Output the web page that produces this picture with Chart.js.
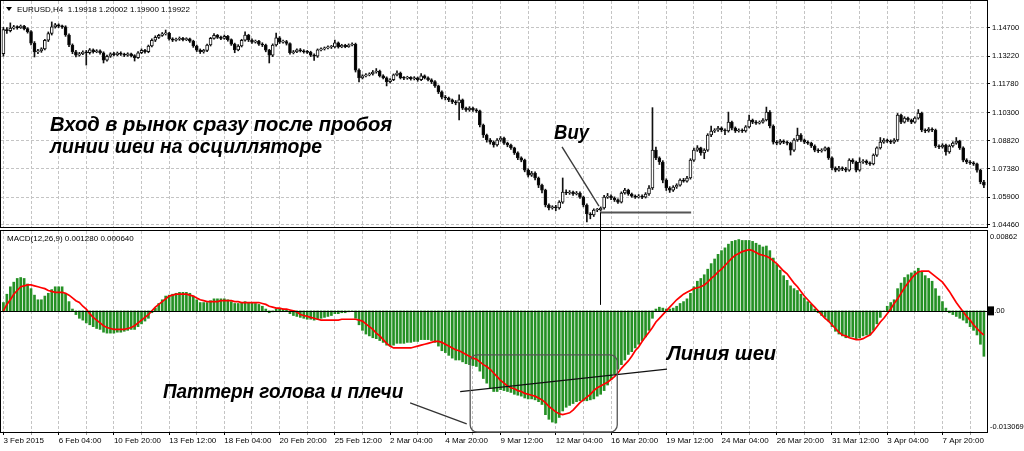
<!DOCTYPE html>
<html>
<head>
<meta charset="utf-8">
<script src="https://cdn.jsdelivr.net/npm/chart.js@4.4.1/dist/chart.umd.min.js"></script>
<style>
    html, body { margin: 0; padding: 0; background: #fff; }
    #wrap { position: relative; width: 1024px; height: 451px; overflow: hidden; }
    #price { position: absolute; left: 0; top: 0; }
    #macd { position: absolute; left: 0; top: 229px; }
</style>
</head>
<body>
<div id="wrap">
    <canvas id="price" width="1024" height="229"></canvas>
    <canvas id="macd" width="1024" height="222"></canvas>
</div>
<script>
// EURUSD H4, 285 bars.
// Prices are in 0.0001 steps (11460 = 1.1460), MACD values in 0.0001 steps.
const PRICE_UNIT = 1e-4;
const MACD_UNIT = 1e-4;

const firstOpen = 11335;

const closes = [
    11460, 11455, 11468, 11475, 11470, 11478, 11465, 11450, 11390, 11344,
    11350, 11360, 11405, 11440, 11474, 11485, 11478, 11474, 11432, 11380,
    11345, 11328, 11335, 11344, 11340, 11355, 11345, 11350, 11340, 11302,
    11322, 11335, 11330, 11338, 11332, 11328, 11334, 11325, 11315, 11340,
    11352, 11345, 11375, 11405, 11420, 11430, 11438, 11442, 11412, 11405,
    11410, 11415, 11408, 11412, 11400, 11375, 11354, 11345, 11352, 11380,
    11415, 11430, 11420, 11415, 11425, 11408, 11385, 11355, 11375, 11405,
    11432, 11406, 11395, 11400, 11385, 11380, 11354, 11328, 11380, 11418,
    11395, 11398, 11388, 11340, 11345, 11355, 11350, 11345, 11342, 11328,
    11322, 11355, 11360, 11365, 11370, 11370, 11392, 11370, 11378, 11372,
    11380, 11384, 11250, 11210, 11220, 11225, 11230, 11240, 11245, 11220,
    11210, 11190, 11200, 11225, 11235, 11210, 11208, 11212, 11205, 11210,
    11200, 11220, 11210, 11200, 11190, 11168, 11137, 11110, 11105, 11095,
    11085, 11080, 11095, 11053, 11043, 11053, 11043, 11038, 10965, 10913,
    10887, 10876, 10861, 10887, 10897, 10871, 10861, 10846, 10820, 10794,
    10783, 10731, 10705, 10716, 10690, 10653, 10627, 10550, 10534, 10540,
    10534, 10565, 10617, 10612, 10617, 10607, 10612, 10591, 10550, 10503,
    10498, 10524, 10524, 10534, 10591, 10596, 10586, 10576, 10565, 10612,
    10627, 10607, 10596, 10591, 10596, 10591, 10607, 10638, 10835, 10794,
    10773, 10679, 10638, 10627, 10643, 10653, 10679, 10674, 10690, 10783,
    10835, 10846, 10820, 10835, 10913, 10934, 10939, 10949, 10939, 10934,
    10980, 10949, 10934, 10939, 10934, 10955, 10991, 10980, 10975, 10980,
    10991, 11032, 10960, 10876, 10871, 10881, 10876, 10871, 10835, 10887,
    10913, 10887, 10876, 10871, 10856, 10835, 10830, 10835, 10846, 10794,
    10742, 10731, 10742, 10737, 10731, 10783, 10773, 10731, 10773, 10778,
    10768, 10763, 10809, 10846, 10876, 10887, 10881, 10876, 10887, 11017,
    10980, 11001, 10991, 10980, 11001, 11027, 10939, 10934, 10944, 10939,
    10856, 10851, 10861, 10825, 10856, 10871, 10881, 10846, 10783, 10773,
    10768, 10763, 10731, 10669, 10653
];

const highs = [
    11472, 11470, 11495, 11482, 11480, 11484, 11482, 11470, 11455, 11398,
    11358, 11366, 11410, 11448, 11500, 11492, 11490, 11484, 11480, 11438,
    11386, 11352, 11342, 11350, 11352, 11362, 11360, 11356, 11355, 11345,
    11328, 11340, 11342, 11344, 11345, 11338, 11340, 11338, 11330, 11346,
    11360, 11358, 11380, 11412, 11428, 11436, 11445, 11458, 11446, 11418,
    11416, 11422, 11420, 11418, 11416, 11405, 11380, 11360, 11358, 11385,
    11420, 11440, 11435, 11426, 11432, 11430, 11412, 11390, 11382, 11410,
    11448, 11436, 11412, 11406, 11404, 11392, 11385, 11358, 11386, 11442,
    11424, 11406, 11404, 11392, 11352, 11360, 11362, 11356, 11352, 11348,
    11335, 11360, 11366, 11370, 11376, 11378, 11406, 11396, 11384, 11384,
    11386, 11392, 11390, 11256, 11226, 11232, 11236, 11248, 11258, 11250,
    11226, 11215, 11206, 11230, 11246, 11240, 11216, 11218, 11216, 11216,
    11214, 11232, 11225, 11215, 11205, 11195, 11172, 11142, 11118, 11110,
    11100, 11092, 11121, 11100, 11058, 11060, 11058, 11050, 11042, 10970,
    10918, 10895, 10882, 10894, 10905, 10902, 10876, 10866, 10850, 10826,
    10800, 10788, 10738, 10724, 10722, 10695, 10658, 10632, 10556, 10546,
    10548, 10572, 10690, 10628, 10625, 10622, 10620, 10618, 10596, 10556,
    10510, 10530, 10532, 10540, 10600, 10610, 10602, 10592, 10582, 10618,
    10636, 10632, 10612, 10602, 10604, 10602, 10614, 10650, 11055, 10850,
    10800, 10780, 10686, 10645, 10650, 10660, 10686, 10688, 10698, 10790,
    10845, 10858, 10850, 10842, 10920, 10960, 10946, 10958, 10955, 10945,
    11032, 10986, 10955, 10945, 10945, 10962, 11017, 10996, 10988, 10986,
    10998, 11058, 11040, 10966, 10884, 10890, 10888, 10882, 10876, 10894,
    10949, 10920, 10892, 10882, 10876, 10862, 10842, 10842, 10852, 10850,
    10800, 10748, 10750, 10748, 10745, 10790, 10790, 10778, 10795, 10786,
    10784, 10774, 10815, 10852, 10900, 10895, 10892, 10888, 10894, 11025,
    11022, 11008, 11006, 10996, 11008, 11045, 11032, 10945, 10952, 10950,
    10944, 10862, 10868, 10866, 10862, 10878, 10900, 10886, 10852, 10790,
    10780, 10775, 10768, 10736, 10678
];

const lows = [
    11322, 11440, 11448, 11462, 11462, 11466, 11458, 11442, 11380, 11318,
    11335, 11342, 11355, 11398, 11432, 11468, 11470, 11466, 11425, 11372,
    11335, 11318, 11322, 11330, 11276, 11333, 11338, 11340, 11332, 11287,
    11296, 11316, 11324, 11325, 11326, 11320, 11322, 11318, 11297, 11310,
    11335, 11338, 11340, 11370, 11398, 11414, 11425, 11432, 11405, 11398,
    11400, 11404, 11402, 11403, 11394, 11368, 11346, 11336, 11338, 11346,
    11375, 11410, 11414, 11408, 11410, 11400, 11378, 11340, 11350, 11370,
    11400, 11398, 11388, 11390, 11378, 11372, 11345, 11287, 11320, 11374,
    11388, 11390, 11380, 11332, 11334, 11340, 11344, 11338, 11336, 11320,
    11300, 11316, 11350, 11354, 11360, 11362, 11365, 11364, 11366, 11366,
    11368, 11375, 11240, 11188, 11204, 11214, 11220, 11224, 11234, 11214,
    11204, 11168, 11184, 11195, 11220, 11204, 11200, 11202, 11198, 11199,
    11192, 11195, 11204, 11194, 11180, 11160, 11128, 11100, 11095, 11086,
    11076, 11070, 10991, 11045, 11035, 11036, 11036, 11030, 10955, 10900,
    10876, 10866, 10850, 10855, 10880, 10864, 10852, 10838, 10812, 10785,
    10774, 10722, 10695, 10698, 10680, 10640, 10612, 10540, 10524, 10528,
    10520, 10528, 10558, 10604, 10605, 10600, 10602, 10584, 10540, 10462,
    10478, 10490, 10515, 10518, 10528, 10584, 10578, 10568, 10558, 10560,
    10606, 10600, 10590, 10584, 10586, 10582, 10586, 10600, 10630, 10785,
    10760, 10665, 10625, 10615, 10620, 10636, 10648, 10668, 10668, 10684,
    10776, 10828, 10808, 10790, 10828, 10905, 10926, 10932, 10930, 10915,
    10928, 10940, 10926, 10928, 10926, 10928, 10950, 10972, 10968, 10970,
    10974, 10986, 10950, 10866, 10862, 10864, 10868, 10862, 10809, 10828,
    10880, 10880, 10868, 10864, 10848, 10826, 10822, 10824, 10830, 10786,
    10732, 10722, 10725, 10728, 10722, 10725, 10765, 10722, 10725, 10766,
    10760, 10755, 10758, 10802, 10840, 10870, 10874, 10868, 10870, 10880,
    10972, 10975, 10984, 10972, 10975, 10995, 10930, 10925, 10928, 10930,
    10848, 10842, 10845, 10809, 10818, 10850, 10865, 10838, 10774, 10764,
    10760, 10755, 10720, 10660, 10640
];

const macdHist = [
    9, 18, 26, 31, 35, 36, 35, 29, 24, 17,
    12, 12, 16, 19, 23, 26, 26, 26, 19, 10,
    2, -4, -8, -10, -13, -15, -17, -19, -20, -23,
    -24, -24, -24, -23, -23, -22, -21, -20, -20, -17,
    -14, -11, -8, -2, 3, 8, 12, 16, 17, 18,
    19, 20, 20, 20, 19, 16, 12, 9, 9, 9,
    11, 13, 13, 13, 13, 12, 10, 8, 8, 9,
    10, 9, 9, 8, 7, 5, 2, -2, -1, 2,
    2, 2, 1, -3, -5, -6, -7, -8, -9, -9,
    -10, -9, -8, -7, -6, -5, -3, -3, -2, -2,
    -1, 0, -8, -15, -21, -25, -27, -29, -30, -32,
    -34, -37, -38, -37, -35, -35, -35, -34, -34, -33,
    -33, -31, -31, -31, -32, -34, -38, -43, -45, -48,
    -51, -53, -53, -55, -57, -58, -59, -60, -65, -73,
    -78, -83, -87, -87, -85, -86, -87, -88, -90, -91,
    -92, -94, -95, -95, -96, -98, -101, -112, -117, -120,
    -121, -115, -108, -104, -102, -100, -98, -97, -97, -97,
    -96, -95, -92, -90, -86, -80, -74, -68, -63, -58,
    -53, -47, -44, -40, -36, -32, -28, -21, -8, 2,
    4, 3, 2, 2, 3, 5, 8, 10, 13, 19,
    26, 32, 35, 39, 45, 51, 56, 61, 65, 68,
    72, 75, 76, 77, 76, 76, 76, 75, 73, 71,
    69, 70, 65, 57, 50, 44, 38, 33, 27, 24,
    22, 18, 14, 10, 7, 2, -2, -5, -7, -11,
    -17, -22, -25, -27, -29, -28, -28, -31, -29, -27,
    -26, -26, -21, -14, -7, 0, 5, 9, 12, 24,
    30, 36, 39, 41, 43, 46, 42, 38, 35, 32,
    24, 16, 10, 3, -2, -4, -6, -8, -10, -13,
    -17, -21, -26, -36, -49
];

const macdSignal = [
    0, 7, 12, 18, 22, 26, 27, 28, 28, 27,
    26, 25, 24, 22, 21, 20, 20, 20, 19, 17,
    14, 11, 9, 5, 2, -3, -7, -10, -13, -16,
    -18, -19, -20, -20, -20, -20, -19, -18, -16, -13,
    -10, -7, -4, 0, 4, 7, 10, 13, 16, 17,
    18, 18, 18, 18, 17, 16, 14, 12, 11, 10,
    10, 10, 10, 11, 11, 11, 11, 10, 10, 9,
    9, 9, 9, 9, 9, 8, 7, 5, 4, 3,
    3, 2, 2, 1, 0, -1, -4, -5, -6, -7,
    -8, -9, -10, -10, -10, -10, -10, -10, -9, -9,
    -9, -9, -9, -10, -11, -14, -17, -20, -24, -27,
    -31, -35, -38, -40, -40, -40, -40, -40, -40, -39,
    -38, -37, -36, -35, -34, -33, -33, -34, -36, -38,
    -40, -42, -43, -45, -47, -49, -51, -52, -55, -58,
    -60, -63, -67, -71, -75, -78, -81, -83, -84, -86,
    -87, -89, -90, -91, -92, -94, -96, -99, -103, -106,
    -109, -111, -112, -111, -110, -107, -103, -99, -96, -93,
    -90, -86, -83, -81, -79, -77, -74, -71, -67, -62,
    -58, -54, -49, -43, -39, -33, -28, -23, -18, -12,
    -8, -4, 0, 4, 8, 12, 15, 18, 20, 22,
    24, 25, 26, 28, 31, 35, 38, 42, 45, 49,
    53, 57, 60, 62, 64, 65, 66, 65, 63, 61,
    60, 59, 57, 54, 51, 47, 43, 40, 35, 30,
    26, 21, 16, 12, 8, 4, 0, -4, -8, -11,
    -15, -19, -23, -26, -27, -29, -30, -31, -31, -30,
    -28, -26, -22, -17, -12, -8, -3, 2, 8, 13,
    19, 25, 30, 35, 39, 42, 43, 43, 43, 40,
    37, 34, 31, 26, 21, 15, 9, 4, -1, -6,
    -10, -15, -19, -23, -26
];

// one time label every 16 bars, starting at bar 0
const timeLabels = [
    '3 Feb 2015', '6 Feb 04:00', '10 Feb 20:00', '13 Feb 12:00', '18 Feb 04:00',
    '20 Feb 20:00', '25 Feb 12:00', '2 Mar 04:00', '4 Mar 20:00', '9 Mar 12:00',
    '12 Mar 04:00', '16 Mar 20:00', '19 Mar 12:00', '24 Mar 04:00', '26 Mar 20:00',
    '31 Mar 12:00', '3 Apr 04:00', '7 Apr 20:00'
];

const priceTicks = [1.0446, 1.0590, 1.0738, 1.0882, 1.1030, 1.1178, 1.1322, 1.1470];
const macdTickValues = [86.2, 0, -130.69];
const macdTickLabels = ['0.00862', '0.00', '-0.013069'];

// ---- layout ----
const X_MIN = -0.7;
const X_MAX = 284.9;
const PRICE_MIN = 1.04356;
const PRICE_MAX = 1.16086;
const MACD_MIN = -130.69;
const MACD_MAX = 86.2;
const GRID = '#c4c4c4';
const SMALL_FONT = '8px "Liberation Sans"';
const NOTE_FONT = 'italic bold 20px "Liberation Sans"';

const gridBars = [];
for (let b = 0; b <= 280; b += 8) gridBars.push(b);

const opens = closes.map((c, i) => (i === 0 ? firstOpen : closes[i - 1]));
const isBull = i => closes[i] >= opens[i];

function lockBox(scale, size) {
    if (scale.isHorizontal()) scale.height = size;
    else scale.width = size;
    scale.paddingTop = 0;
    scale.paddingBottom = 0;
    scale.paddingLeft = 0;
    scale.paddingRight = 0;
}

function xAxis(showLabels) {
    return {
        type: 'linear',
        min: X_MIN,
        max: X_MAX,
        offset: false,
        afterBuildTicks: s => { s.ticks = gridBars.map(v => ({ value: v })); },
        afterFit: s => lockBox(s, showLabels ? 19 : 0),
        ticks: {
            display: showLabels,
            autoSkip: false,
            maxRotation: 0,
            minRotation: 0,
            align: 'start',
            padding: 1,
            color: '#000',
            font: { family: 'Liberation Sans', size: 8 },
            callback: v => (v % 16 === 0 ? timeLabels[v / 16] : '')
        },
        grid: {
            color: GRID,
            offset: false,
            drawTicks: showLabels,
            tickLength: 3,
            tickBorderDash: [],
            tickColor: c => (c.tick && c.tick.value % 16 === 0 ? '#000' : '#9a9a9a')
        },
        border: { display: false, dash: [3, 2] }
    };
}

function fitText(ctx, text, x0, x1, baseline, font) {
    ctx.save();
    ctx.font = font;
    ctx.textAlign = 'left';
    ctx.textBaseline = 'alphabetic';
    const w = ctx.measureText(text).width;
    ctx.translate(x0, baseline);
    ctx.scale((x1 - x0) / w, 1);
    ctx.fillStyle = '#000';
    ctx.fillText(text, 0, 0);
    ctx.restore();
}

function segment(ctx, x0, y0, x1, y1, color, width) {
    ctx.beginPath();
    ctx.moveTo(x0, y0);
    ctx.lineTo(x1, y1);
    ctx.strokeStyle = color;
    ctx.lineWidth = width;
    ctx.stroke();
}

function frame(ctx, a) {
    ctx.strokeStyle = '#000';
    ctx.lineWidth = 1;
    ctx.strokeRect(a.left - 0.5, a.top - 0.5, a.right - a.left + 1, a.bottom - a.top + 1);
}

// ---- price panel ----
const priceDecor = {
    id: 'priceDecor',
    afterDraw(chart) {
        const { ctx, chartArea: a } = chart;
        const x = chart.scales.x;
        const y = chart.scales.y;
        ctx.save();
        frame(ctx, a);

        // symbol header
        ctx.fillStyle = '#000';
        ctx.beginPath();
        ctx.moveTo(6, 7);
        ctx.lineTo(12, 7);
        ctx.lineTo(9, 11);
        ctx.closePath();
        ctx.fill();
        ctx.font = SMALL_FONT;
        ctx.textBaseline = 'middle';
        ctx.fillText('EURUSD,H4  1.19918 1.20002 1.19900 1.19922', 17, 9.5);

        // notes
        fitText(ctx, 'Вход в рынок сразу после пробоя', x.getPixelForValue(13.5), x.getPixelForValue(112.6), y.getPixelForValue(1.0934), NOTE_FONT);
        fitText(ctx, 'линии шеи на осцилляторе', x.getPixelForValue(13.5), x.getPixelForValue(92.3), y.getPixelForValue(1.0820), NOTE_FONT);
        fitText(ctx, 'Buy', x.getPixelForValue(159.5), x.getPixelForValue(169.6), y.getPixelForValue(1.0890), NOTE_FONT);

        segment(ctx, x.getPixelForValue(161.8), y.getPixelForValue(1.0851),
            x.getPixelForValue(172.5), y.getPixelForValue(1.0544), '#3a3a3a', 1.4);
        const buyY = Math.round(y.getPixelForValue(1.0513)) + 0.5;
        segment(ctx, x.getPixelForValue(172.8), buyY, x.getPixelForValue(199.2), buyY, '#555', 1.8);
        const vx = Math.round(x.getPixelForValue(172.8)) + 0.5;
        segment(ctx, vx, buyY, vx, chart.height, '#000', 1);
        ctx.restore();
    }
};

const priceChart = new Chart(document.getElementById('price'), {
    type: 'bar',
    data: {
        datasets: [
            {
                label: 'wick',
                data: closes.map((c, i) => ({ x: i, y: [lows[i] * PRICE_UNIT, highs[i] * PRICE_UNIT] })),
                backgroundColor: '#111',
                barThickness: 1,
                grouped: false,
                order: 2
            },
            {
                label: 'body',
                data: closes.map((c, i) => ({ x: i, y: [opens[i] * PRICE_UNIT, c * PRICE_UNIT] })),
                backgroundColor: c => (isBull(c.dataIndex) ? '#fff' : '#000'),
                borderColor: '#111',
                borderWidth: 1,
                borderSkipped: false,
                barThickness: 3,
                minBarLength: 1,
                grouped: false,
                order: 1
            }
        ]
    },
    options: {
        responsive: false,
        animation: false,
        layout: { padding: { left: 1, top: 1, right: 0, bottom: 2 } },
        plugins: { legend: { display: false }, tooltip: { enabled: false } },
        scales: {
            x: xAxis(false),
            y: {
                position: 'right',
                min: PRICE_MIN,
                max: PRICE_MAX,
                afterBuildTicks: s => { s.ticks = priceTicks.map(v => ({ value: v })); },
                afterFit: s => lockBox(s, 37),
                ticks: {
                    color: '#000',
                    padding: 2,
                    font: { family: 'Liberation Sans', size: 7.5 },
                    callback: v => v.toFixed(5)
                },
                grid: { color: GRID, tickLength: 3, tickColor: '#000', tickBorderDash: [] },
                border: { display: false, dash: [3, 2] }
            }
        }
    },
    plugins: [priceDecor]
});

// ---- MACD panel ----
const macdDecor = {
    id: 'macdDecor',
    afterDatasetsDraw(chart) {
        const { ctx, chartArea: a } = chart;
        const zy = Math.round(chart.scales.y.getPixelForValue(0)) + 0.5;
        segment(ctx, a.left, zy, a.right, zy, '#000', 1);
    },
    afterDraw(chart) {
        const { ctx, chartArea: a } = chart;
        const x = chart.scales.x;
        const y = chart.scales.y;
        ctx.save();
        frame(ctx, a);

        ctx.fillStyle = '#000';
        ctx.font = SMALL_FONT;
        ctx.textBaseline = 'middle';
        ctx.fillText('MACD(12,26,9) 0.001280 0.000640', 7, 9.5);

        // right scale labels, kept inside the panel like the terminal does
        const zy = y.getPixelForValue(0);
        ctx.fillRect(a.right + 1, zy - 4.5, 6, 9);
        ctx.font = '7.5px "Liberation Sans"';
        macdTickValues.forEach((v, i) => {
            let py = y.getPixelForValue(v);
            if (i === 0) py += 6;
            if (i === macdTickValues.length - 1) py -= 5;
            ctx.fillText(macdTickLabels[i], a.right + 3, py);
        });

        // entry line coming down from the price panel
        const vx = Math.round(x.getPixelForValue(172.8)) + 0.5;
        segment(ctx, vx, 0, vx, y.getPixelForValue(6.5), '#000', 1);

        // neckline and pattern frame
        segment(ctx, x.getPixelForValue(132.3), y.getPixelForValue(-87.1),
            x.getPixelForValue(192.2), y.getPixelForValue(-62.9), '#111', 1.3);
        segment(ctx, x.getPixelForValue(117.8), y.getPixelForValue(-99.3),
            x.getPixelForValue(134.2), y.getPixelForValue(-121.9), '#333', 1.3);

        const rx0 = x.getPixelForValue(135.2);
        const rx1 = x.getPixelForValue(177.8);
        const ry0 = y.getPixelForValue(-47.5);
        const ry1 = y.getPixelForValue(MACD_MIN);
        ctx.beginPath();
        ctx.roundRect(rx0, ry0, rx1 - rx0, ry1 - ry0, 7);
        ctx.strokeStyle = '#555';
        ctx.lineWidth = 1.3;
        ctx.stroke();

        fitText(ctx, 'Линия шеи', x.getPixelForValue(192.2), x.getPixelForValue(223.8), y.getPixelForValue(-52.9), NOTE_FONT);
        fitText(ctx, 'Паттерн голова и плечи', x.getPixelForValue(46.2), x.getPixelForValue(115.8), y.getPixelForValue(-93.9), NOTE_FONT);
        ctx.restore();
    }
};

const macdChart = new Chart(document.getElementById('macd'), {
    type: 'bar',
    data: {
        datasets: [
            {
                label: 'MACD',
                data: macdHist.map((v, i) => ({ x: i, y: v })),
                backgroundColor: '#259125',
                barThickness: 2,
                grouped: false,
                order: 2
            },
            {
                type: 'line',
                label: 'Signal',
                data: macdSignal.map((v, i) => ({ x: i, y: v })),
                borderColor: '#ff0000',
                borderWidth: 1.7,
                pointRadius: 0,
                tension: 0,
                order: 1
            }
        ]
    },
    options: {
        responsive: false,
        animation: false,
        layout: { padding: { left: 1, top: 2, right: 0, bottom: 0 } },
        plugins: { legend: { display: false }, tooltip: { enabled: false } },
        scales: {
            x: xAxis(true),
            y: {
                position: 'right',
                min: MACD_MIN,
                max: MACD_MAX,
                afterFit: s => lockBox(s, 37),
                ticks: { display: false },
                grid: { display: false },
                border: { display: false }
            }
        }
    },
    plugins: [macdDecor]
});
</script>
</body>
</html>
